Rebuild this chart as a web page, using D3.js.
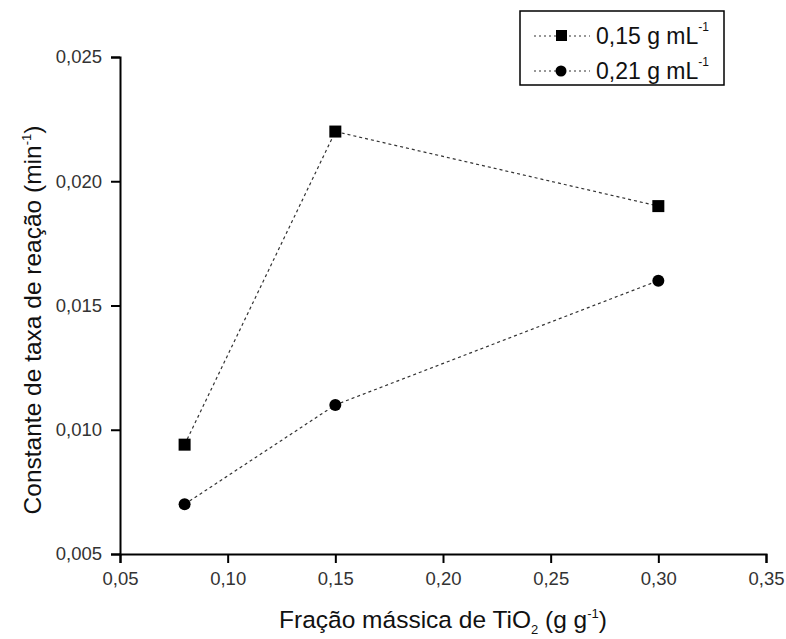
<!DOCTYPE html>
<html>
<head>
<meta charset="utf-8">
<script src="https://cdnjs.cloudflare.com/ajax/libs/d3/7.8.5/d3.min.js"></script>
<style>
  body { margin: 0; background: #fff; }
  svg { display: block; font-family: "Liberation Sans", Arial, sans-serif; }
</style>
</head>
<body>
<div id="chart"></div>
<script>
var w = 786;
var h = 639;
var margin = {left: 120, right: 20, top: 57, bottom: 85};

// data
var fractions = [0.08, 0.15, 0.30];
var series1 = [0.0094, 0.0220, 0.0190];   // 0,15 g mL-1 (squares)
var series2 = [0.0070, 0.0110, 0.0160];   // 0,21 g mL-1 (circles)
var seriesNames = ["0,15 g mL", "0,21 g mL"];
var xTicks = [0.05, 0.10, 0.15, 0.20, 0.25, 0.30, 0.35];
var yTicks = [0.005, 0.010, 0.015, 0.020, 0.025];

var svg = d3.select("#chart")
            .append("svg")
            .attr("width", w)
            .attr("height", h);

var xScale = d3.scaleLinear()
    .domain([0.05, 0.35])
    .range([margin.left, 766]);
var yScale = d3.scaleLinear()
    .domain([0.005, 0.025])
    .range([554, margin.top]);

var comma = function(fmt) {
    return function(d) { return d3.format(fmt)(d).replace(".", ","); };
};

// minor ticks
var xMinor = d3.axisBottom(xScale)
    .tickValues(d3.range(0.075, 0.35, 0.05))
    .tickSize(5).tickFormat("");
var yMinor = d3.axisLeft(yScale)
    .tickValues(d3.range(0.0075, 0.025, 0.005))
    .tickSize(5).tickFormat("");

var xAxis = d3.axisBottom(xScale)
    .tickValues(xTicks)
    .tickSize(9)
    .tickPadding(9)
    .tickFormat(comma(".2f"));
var yAxis = d3.axisLeft(yScale)
    .tickValues(yTicks)
    .tickSize(9)
    .tickPadding(9)
    .tickFormat(comma(".3f"));

var gx = svg.append("g")
    .attr("transform", "translate(0," + 554 + ")");
gx.call(xMinor);
gx.call(xAxis);
var gy = svg.append("g")
    .attr("transform", "translate(" + margin.left + ",0)");
gy.call(yMinor);
gy.call(yAxis);

svg.selectAll(".domain").attr("stroke", "#000").attr("stroke-width", 2);
svg.selectAll(".tick line").attr("stroke", "#000").attr("stroke-width", 2);
svg.selectAll(".tick text")
    .attr("font-size", 18.5)
    .attr("font-family", "Liberation Sans, Arial, sans-serif")
    .attr("fill", "#333");

// axis titles
var yt = svg.append("text")
    .attr("transform", "translate(41,320) rotate(-90)")
    .attr("text-anchor", "middle")
    .attr("font-size", 24.5)
    .attr("fill", "#111");
yt.append("tspan").text("Constante de taxa de reação (min");
yt.append("tspan").attr("font-size", 13).attr("dy", -10).text("-1");
yt.append("tspan").attr("dy", 10).text(")");

var xt = svg.append("text")
    .attr("x", 443)
    .attr("y", 628)
    .attr("text-anchor", "middle")
    .attr("font-size", 24.5)
    .attr("fill", "#111");
xt.append("tspan").text("Fração mássica de TiO");
xt.append("tspan").attr("font-size", 13).attr("dy", 6).text("2");
xt.append("tspan").attr("dy", -6).text(" (g g");
xt.append("tspan").attr("font-size", 13).attr("dy", -10).text("-1");
xt.append("tspan").attr("dy", 10).text(")");

// lines
var line = d3.line()
    .x(function(d, i) { return xScale(fractions[i]); })
    .y(function(d) { return yScale(d); });

[series1, series2].forEach(function(s) {
    svg.append("path")
        .datum(s)
        .attr("d", line)
        .attr("fill", "none")
        .attr("stroke", "#333")
        .attr("stroke-width", 1.2)
        .attr("stroke-dasharray", "3,3");
});

// markers
svg.selectAll(".sq")
    .data(series1)
    .enter()
    .append("rect")
    .attr("class", "sq")
    .attr("x", function(d, i) { return xScale(fractions[i]) - 6; })
    .attr("y", function(d) { return yScale(d) - 6; })
    .attr("width", 12)
    .attr("height", 12)
    .attr("fill", "#000");

svg.selectAll(".dot")
    .data(series2)
    .enter()
    .append("circle")
    .attr("class", "dot")
    .attr("cx", function(d, i) { return xScale(fractions[i]); })
    .attr("cy", function(d) { return yScale(d); })
    .attr("r", 6)
    .attr("fill", "#000");

// legend
var legend = svg.append("g");
legend.append("rect")
    .attr("x", 520).attr("y", 11)
    .attr("width", 204).attr("height", 74)
    .attr("fill", "#fff")
    .attr("stroke", "#000")
    .attr("stroke-width", 1.5);

seriesNames.forEach(function(name, i) {
    var ly = 36 + i * 35;
    legend.append("line")
        .attr("x1", 534).attr("x2", 590)
        .attr("y1", ly).attr("y2", ly)
        .attr("stroke", "#333")
        .attr("stroke-width", 1.2)
        .attr("stroke-dasharray", "2,3");
    if (i === 0) {
        legend.append("rect")
            .attr("x", 556).attr("y", ly - 6)
            .attr("width", 11).attr("height", 11)
            .attr("fill", "#000");
    } else {
        legend.append("circle")
            .attr("cx", 561).attr("cy", ly)
            .attr("r", 5.5)
            .attr("fill", "#000");
    }
    var t = legend.append("text")
        .attr("x", 596)
        .attr("y", ly + 8)
        .attr("font-size", 23)
        .attr("fill", "#111");
    t.append("tspan").text(name);
    t.append("tspan").attr("font-size", 12).attr("dy", -13).text("-1");
});
</script>
</body>
</html>
